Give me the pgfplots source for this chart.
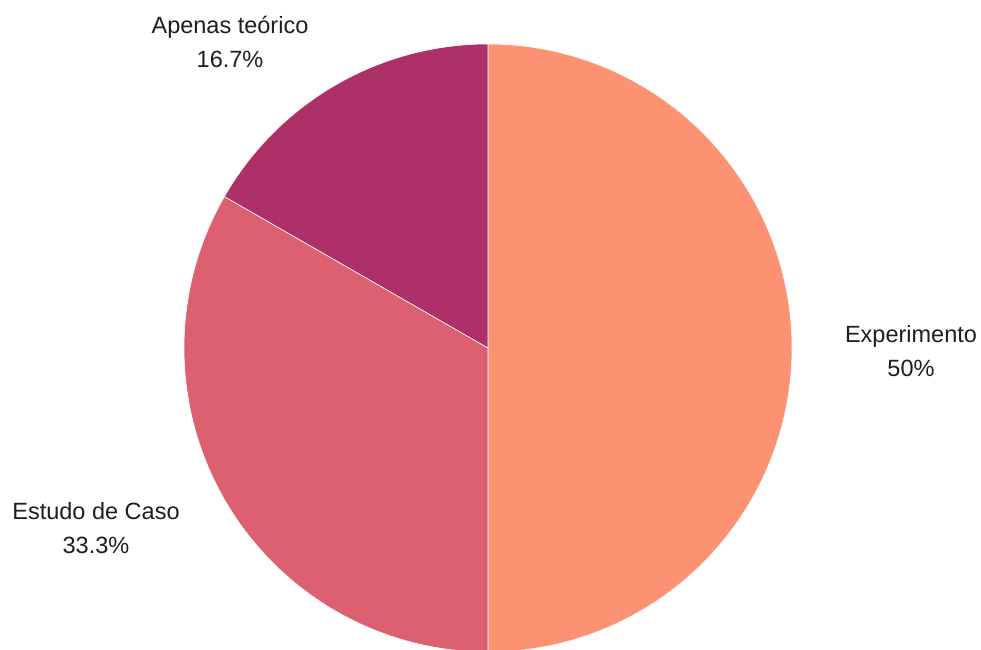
\documentclass[border=0pt]{standalone}
\usepackage{fontspec}
\setmainfont{Liberation Sans}
\usepackage{pgfplots}
\pgfplotsset{compat=1.18}

\definecolor{cExp}{RGB}{252,146,114}
\definecolor{cEst}{RGB}{220,96,112}
\definecolor{cApe}{RGB}{173,48,104}
\definecolor{txt}{RGB}{30,30,30}

% slice shares in percent
\def\valExp{50}
\def\valEst{33.3}
\def\valApe{16.7}

% slices run clockwise from twelve o'clock
\pgfmathsetmacro\aZero{90}
\pgfmathsetmacro\aOne{\aZero-3.6*\valExp}
\pgfmathsetmacro\aTwo{\aOne-3.6*\valEst}
\pgfmathsetmacro\aThree{\aTwo-3.6*\valApe}

\def\cx{488}
\def\cy{302}
\def\rr{304}

\begin{document}
\begin{tikzpicture}
\begin{axis}[
  x=1bp, y=1bp,
  xmin=0, xmax=981, ymin=0, ymax=650,
  scale only axis,
  hide axis,
  clip=true,
]
\addplot[fill=cExp, draw=white, line width=0.6bp, domain=\aOne:\aZero, samples=181]
  ({\cx+\rr*cos(x)},{\cy+\rr*sin(x)}) -- (axis cs:\cx,\cy) -- cycle;
\addplot[fill=cEst, draw=white, line width=0.6bp, domain=\aTwo:\aOne, samples=121]
  ({\cx+\rr*cos(x)},{\cy+\rr*sin(x)}) -- (axis cs:\cx,\cy) -- cycle;
\addplot[fill=cApe, draw=white, line width=0.6bp, domain=\aThree:\aTwo, samples=61]
  ({\cx+\rr*cos(x)},{\cy+\rr*sin(x)}) -- (axis cs:\cx,\cy) -- cycle;

\begin{scope}[every node/.style={align=center, text=txt,
    font=\fontsize{23.5bp}{34bp}\selectfont, inner sep=0pt}]
\node at (axis cs:230,608.5) {Apenas teórico\\16.7\%};
\node at (axis cs:911,299) {Experimento\\50\%};
\node at (axis cs:96,121.5) {Estudo de Caso\\33.3\%};
\end{scope}
\end{axis}
% the page is exactly the plotting area
\pgfresetboundingbox
\path (current axis.south west) rectangle (current axis.north east);
\end{tikzpicture}
\end{document}
